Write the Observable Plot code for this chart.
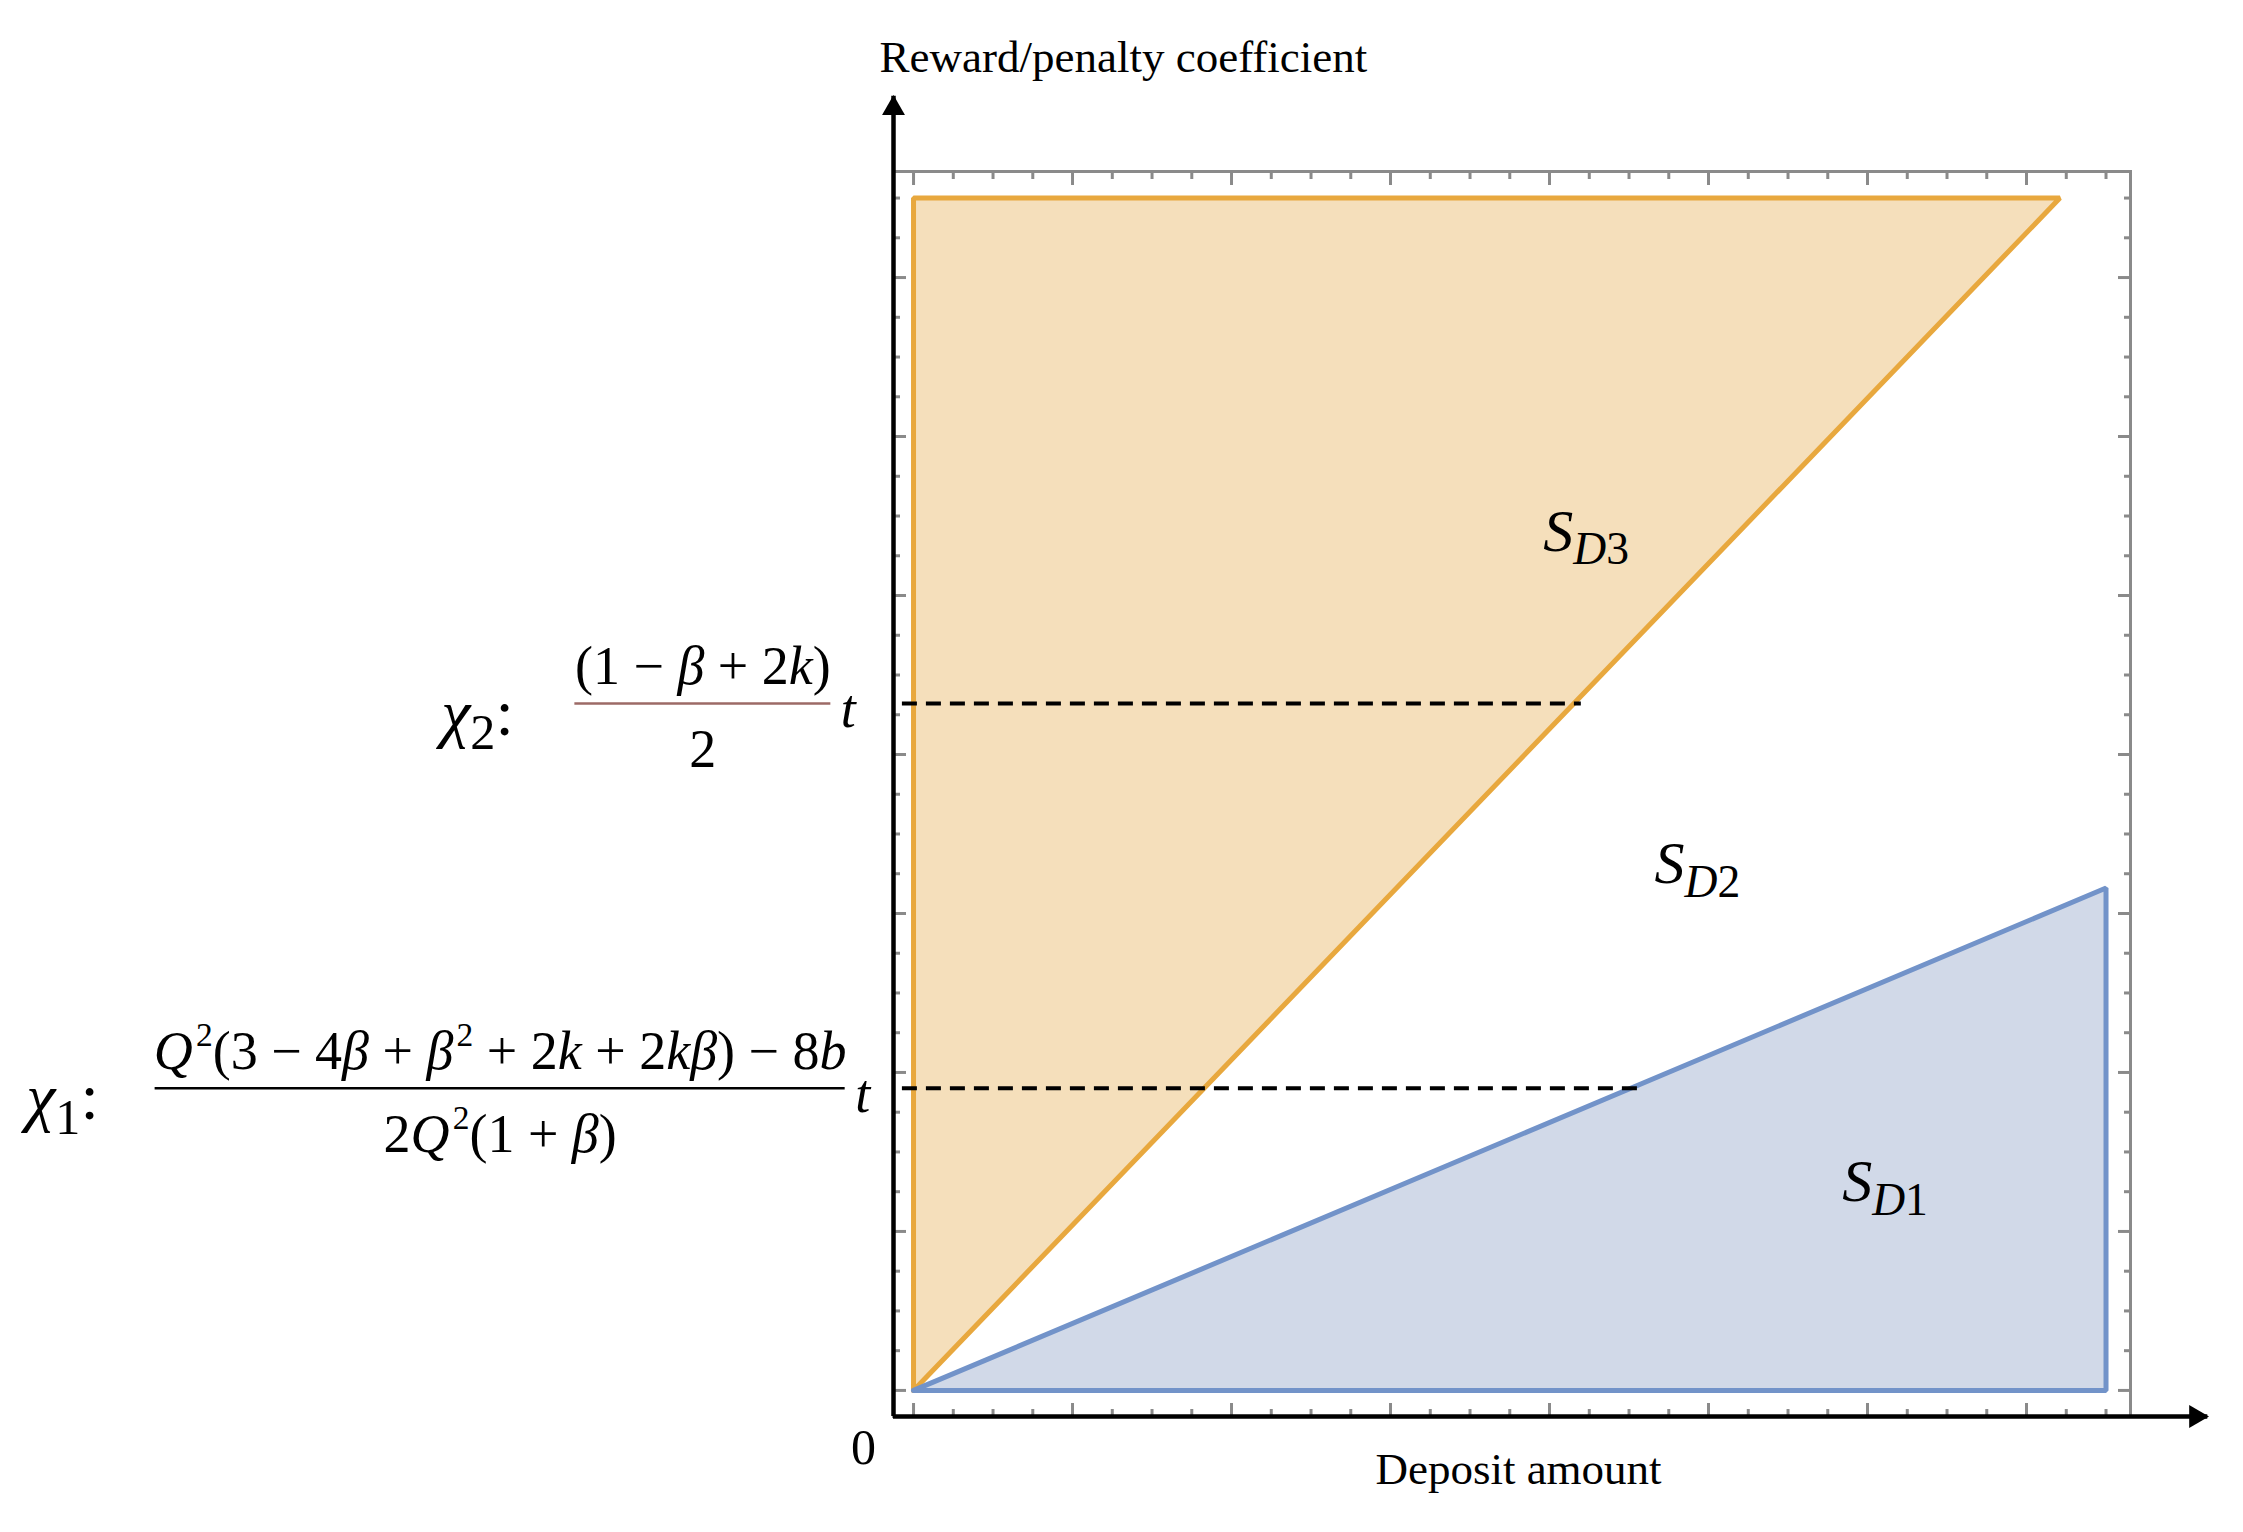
<!DOCTYPE html>
<html>
<head>
<meta charset="utf-8">
<script src="https://cdn.jsdelivr.net/npm/d3@7"></script>
<script src="https://cdn.jsdelivr.net/npm/@observablehq/plot@0.6"></script>
<style>
  html, body { margin: 0; padding: 0; background: #fff; }
  #chart svg { display: block; }
</style>
</head>
<body>
<div id="chart"></div>
<script>
// ---------- data (one major tick = 1 unit) ----------
const sd3X = [0, 0, 7.21, 0];          // orange region S_D3 vertices
const sd3Y = [0, 7.5, 7.5, 0];
const sd1X = [0, 7.5, 7.5, 0];         // blue region S_D1 vertices
const sd1Y = [0, 3.16, 0, 0];

const regionNames = ["S_{D3}", "S_{D2}", "S_{D1}"];
const regionX = [4.23, 4.93, 6.11];
const regionY = [5.4, 3.31, 1.31];

const thresholdNames = ["χ_{2}:", "χ_{1}:"];
const thresholdValues = [4.32, 1.9];
const thresholdEnds = [4.2, 4.56];
const numerators = ["(1 − β + 2k)", "Q^{2}(3 − 4β + β^{2} + 2k + 2kβ) − 8b"];
const denominators = ["2", "2Q^{2}(1 + β)"];
const fractionLeft = [-2.13, -4.77];
const fractionRight = [-0.52, -0.43];
const nameX = [-2.97, -5.58];
const multiplier = "t";

const majorTicks = [0, 1, 2, 3, 4, 5, 6, 7];
const minorTicks = d3.range(0, 7.51, 0.25).filter(v => v % 1 !== 0);

const xTitle = "Deposit amount";
const yTitle = "Reward/penalty coefficient";
const originLabel = "0";

const xDomain = [-0.126, 7.654];
const yDomain = [-0.164, 7.667];
const axisEnd = 8.14;

// ---------- styles ----------
const serif = "'Liberation Serif', 'Times New Roman', serif";
const frameGray = "#8a8a8a";

const idx2 = [0, 1];
const idx3 = [0, 1, 2];

const frameTicks = (anchor, values, size) =>
  (anchor === "bottom" || anchor === "top" ? Plot.axisX : Plot.axisY)(values, {
    anchor, tickSize: -size, tickFormat: () => "", label: null,
    stroke: frameGray, strokeWidth: 3
  });

const plot = Plot.plot({
  width: 2243,
  height: 1532,
  marginLeft: 893,
  marginRight: 113,
  marginTop: 171,
  marginBottom: 116,
  x: { domain: xDomain, axis: null },
  y: { domain: yDomain, axis: null },
  style: { background: "white", overflow: "visible" },
  marks: [
    Plot.frame({ stroke: frameGray, strokeWidth: 3 }),
    frameTicks("bottom", majorTicks, 13),
    frameTicks("bottom", minorTicks, 7),
    frameTicks("top", majorTicks, 13),
    frameTicks("top", minorTicks, 7),
    frameTicks("left", majorTicks, 13),
    frameTicks("left", minorTicks, 7),
    frameTicks("right", majorTicks, 13),
    frameTicks("right", minorTicks, 7),

    // regions
    Plot.line(d3.range(sd3X.length), {
      x: i => sd3X[i], y: i => sd3Y[i],
      fill: "#F5DFBB", stroke: "#E8A83E", strokeWidth: 5, strokeLinejoin: "miter"
    }),
    Plot.line(d3.range(sd1X.length), {
      x: i => sd1X[i], y: i => sd1Y[i],
      fill: "#D1D9E8", stroke: "#7293C9", strokeWidth: 5, strokeLinejoin: "miter"
    }),

    // dashed threshold lines
    Plot.ruleY(idx2, {
      y: i => thresholdValues[i], x1: () => -0.07, x2: i => thresholdEnds[i],
      stroke: "black", strokeWidth: 4, strokeDasharray: "15,9"
    }),

    // axes with arrowheads
    Plot.ruleX([xDomain[0]], { x: d => d, y1: () => yDomain[0], y2: () => axisEnd, stroke: "black", strokeWidth: 4.5 }),
    Plot.ruleY([yDomain[0]], { y: d => d, x1: () => xDomain[0], x2: () => axisEnd, stroke: "black", strokeWidth: 4.5 }),
    Plot.dot([xDomain[0]], { x: d => d, y: () => axisEnd, symbol: "triangle", r: 8.5, fill: "black", stroke: "none", dy: 12 }),
    Plot.dot([yDomain[0]], { y: d => d, x: () => axisEnd, symbol: "triangle", r: 8.5, fill: "black", stroke: "none", rotate: 90, dx: -12 }),

    // axis titles and origin
    Plot.text([yTitle], { x: () => 1.32, y: () => 8.384, text: d => d, fontFamily: serif, fontSize: 45, fill: "black" }),
    Plot.text([xTitle], { x: () => 3.805, y: () => -0.5, text: d => d, fontFamily: serif, fontSize: 45, fill: "black" }),
    Plot.text([originLabel], { x: () => -0.314, y: () => -0.36, text: d => d, fontFamily: serif, fontSize: 50, fill: "black" }),

    // region labels
    Plot.text(idx3, { x: i => regionX[i], y: i => regionY[i], text: i => regionNames[i], fontFamily: serif, fontSize: 60, fill: "black" }),

    // threshold formulas
    Plot.ruleY([0], { y: () => thresholdValues[0], x1: () => fractionLeft[0], x2: () => fractionRight[0], stroke: "#9C6A66", strokeWidth: 2.5 }),
    Plot.ruleY([1], { y: () => thresholdValues[1], x1: () => fractionLeft[1], x2: () => fractionRight[1], stroke: "black", strokeWidth: 2.5 }),
    Plot.text(idx2, { x: i => (fractionLeft[i] + fractionRight[i]) / 2, y: i => thresholdValues[i], dy: -37, text: i => numerators[i], fontFamily: serif, fontSize: 54, fill: "black" }),
    Plot.text(idx2, { x: i => (fractionLeft[i] + fractionRight[i]) / 2, y: i => thresholdValues[i], dy: 46, text: i => denominators[i], fontFamily: serif, fontSize: 54, fill: "black" }),
    Plot.text(idx2, { x: i => fractionRight[i], y: i => thresholdValues[i], dx: 10, dy: 6, text: () => multiplier, textAnchor: "start", fontFamily: serif, fontSize: 54, fill: "black" }),
    Plot.text(idx2, { x: i => nameX[i], y: i => thresholdValues[i], dy: 10, text: i => thresholdNames[i], textAnchor: "start", fontFamily: serif, fontSize: 66, fill: "black" })
  ]
});

document.getElementById("chart").appendChild(plot);

// ---------- typeset math strings: italic letters, _{sub} and ^{sup} ----------
const mathStrings = new Set([...regionNames, ...thresholdNames, ...numerators, ...denominators, multiplier]);
function parseRuns(s) {
  const runs = [];
  let i = 0;
  const isMark = k => (s[k] === "_" || s[k] === "^") && s[k + 1] === "{";
  while (i < s.length) {
    if (isMark(i)) {
      const j = s.indexOf("}", i);
      runs.push({ t: s.slice(i + 2, j), lvl: s[i] === "_" ? -1 : 1 });
      i = j + 1;
    } else {
      let j = i;
      while (j < s.length && !isMark(j)) j++;
      runs.push({ t: s.slice(i, j), lvl: 0 });
      i = j;
    }
  }
  return runs;
}
function mathify(el) {
  const s = el.textContent;
  const fs = parseFloat(getComputedStyle(el).fontSize);
  while (el.firstChild) el.removeChild(el.firstChild);
  let cur = 0;
  const letter = /[A-Za-z\u0370-\u03FF]/;
  for (const run of parseRuns(s)) {
    const chunks = run.t.match(/[A-Za-z\u0370-\u03FF]+|[^A-Za-z\u0370-\u03FF]+/g) || [];
    const target = run.lvl === -1 ? 0.22 * fs : run.lvl === 1 ? -0.42 * fs : 0;
    chunks.forEach((ch, k) => {
      const ts = document.createElementNS("http://www.w3.org/2000/svg", "tspan");
      ts.textContent = ch;
      if (target !== cur) { ts.setAttribute("dy", (target - cur).toFixed(2)); cur = target; }
      if (run.lvl === -1) ts.setAttribute("font-size", (fs * 0.76).toFixed(1));
      if (run.lvl === 1) {
        ts.setAttribute("font-size", (fs * 0.62).toFixed(1));
        if (k === 0) ts.setAttribute("dx", (fs * 0.06).toFixed(1));
      }
      ts.setAttribute("font-style", letter.test(ch) ? "italic" : "normal");
      el.appendChild(ts);
    });
  }
}
plot.querySelectorAll("text").forEach(el => {
  if (el.children.length === 0 && mathStrings.has(el.textContent)) mathify(el);
});
</script>
</body>
</html>
